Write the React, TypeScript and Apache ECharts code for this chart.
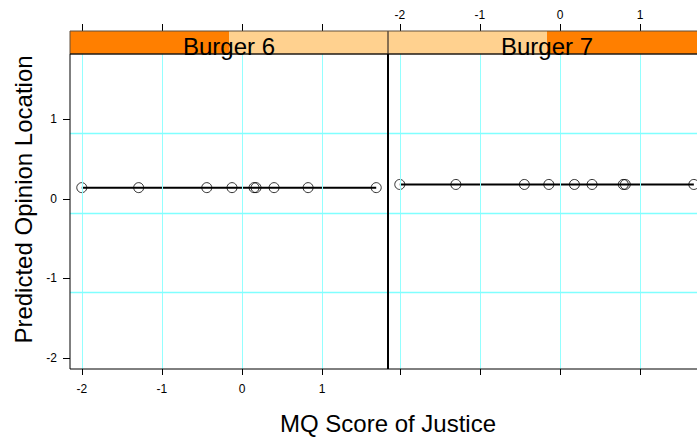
import React, { useEffect, useRef } from "react";
import * as echarts from "echarts";

// ---- data ----
const panelNames = ["Burger 6", "Burger 7"];
const panelLevel = [1, 2]; // level indicator in strip (of 2 levels)
const mqScores6 = [-2.0, -1.29, -0.44, -0.125, 0.15, 0.175, 0.4, 0.825, 1.675];
const predicted6 = [0.14, 0.14, 0.14, 0.14, 0.14, 0.14, 0.14, 0.14, 0.14];
const mqScores7 = [-2.0, -1.3, -0.445, -0.14, 0.18, 0.4, 0.79, 0.815, 1.67];
const predicted7 = [0.18, 0.18, 0.18, 0.18, 0.18, 0.18, 0.18, 0.18, 0.18];
const xTicks = [-2, -1, 0, 1];
const yTicks = [-2, -1, 0, 1];
const vGrid = [-2, -1, 0, 1];
const hGrid = [0.82, -0.18, -1.18];

const X_MIN = -2.147;
const X_MAX = 1.822;
const Y_MIN = -2.14;
const Y_MAX = 1.82;

const FONT = "'Liberation Sans', Arial, Helvetica, sans-serif";

const CHART_W = 697;
const CHART_H = 437;
const PANEL_LEFT = [70, 388];
const PANEL_W = 318;
const PANEL_TOP = 54;
const PANEL_H = 315;
const STRIP_H = 23;
const DARK = "#FF7F00";
const LIGHT = "#FFD18F";
const GRIDC = "#94FFFF";

// the second panel is cut by the page edge: only its visible part is a grid
const VIS_W = [PANEL_W, Math.min(PANEL_W, CHART_W - PANEL_LEFT[1])];
const X_MAX_VIS = VIS_W.map((w) => X_MIN + ((X_MAX - X_MIN) * w) / PANEL_W);

function zip(a: number[], b: number[]) {
  return a.map((v, i) => [v, b[i]]);
}

function xAxisCfg(gridIndex: number, position: "top" | "bottom", showLabels: boolean) {
  const top = position === "top";
  return {
    type: "value",
    gridIndex,
    position,
    min: X_MIN,
    max: X_MAX_VIS[gridIndex],
    offset: top ? STRIP_H : 0,
    axisLine: { show: false, onZero: false },
    splitLine: { show: false },
    axisTick: {
      show: true,
      inside: false,
      length: top ? 7 : 6,
      lineStyle: { color: "#000", width: 1 },
      customValues: xTicks,
    },
    axisLabel: {
      show: showLabels,
      customValues: xTicks,
      margin: top ? 10 : 14,
      fontSize: 12,
      color: "#000",
      fontFamily: FONT,
    },
  };
}

export default function App() {
  const ref = useRef<HTMLDivElement>(null);
  useEffect(() => {
    if (!ref.current) return;
    const chart = echarts.init(ref.current, undefined, { renderer: "svg" });

    const grids = PANEL_LEFT.map((l, i) => ({
      left: l,
      top: PANEL_TOP,
      width: VIS_W[i],
      height: PANEL_H,
      show: false,
      containLabel: false,
    }));

    const yAxes = [0, 1].map((g) => ({
      type: "value",
      gridIndex: g,
      position: "left",
      min: Y_MIN,
      max: Y_MAX,
      show: g === 0,
      axisLine: { show: false, onZero: false },
      splitLine: { show: false },
      axisTick: {
        show: true,
        inside: false,
        length: 7,
        lineStyle: { color: "#000", width: 1 },
        customValues: yTicks,
      },
      axisLabel: {
        show: true,
        customValues: yTicks,
        margin: 13,
        fontSize: 12,
        color: "#000",
        fontFamily: FONT,
      },
    }));

    const xAxes = [
      xAxisCfg(0, "bottom", true),
      xAxisCfg(0, "top", false),
      xAxisCfg(1, "bottom", false),
      xAxisCfg(1, "top", true),
    ];

    const panelData = [zip(mqScores6, predicted6), zip(mqScores7, predicted7)];
    const series: any[] = [];
    panelData.forEach((data, p) => {
      const xi = p === 0 ? 0 : 2;
      series.push({
        type: "line",
        xAxisIndex: xi,
        yAxisIndex: p,
        data: [],
        z: 1,
        silent: true,
        markLine: {
          silent: true,
          symbol: ["none", "none"],
          label: { show: false },
          lineStyle: { color: GRIDC, type: "solid", width: 1 },
          emphasis: { disabled: true },
          data: [
            ...vGrid.map((v) => ({ xAxis: v })),
            ...hGrid.map((v) => ({
              yAxis: v,
              lineStyle: { color: "#80FFFF", type: "solid", width: 1.4 },
            })),
          ],
        },
      });
      series.push({
        type: "line",
        xAxisIndex: xi,
        yAxisIndex: p,
        data,
        showSymbol: false,
        z: 3,
        lineStyle: { color: "#000", width: 2 },
      });
      series.push({
        type: "scatter",
        xAxisIndex: xi,
        yAxisIndex: p,
        data,
        z: 4,
        symbol: "circle",
        symbolSize: 10,
        itemStyle: { color: "rgba(0,0,0,0)", borderColor: "#000", borderWidth: 1 },
      });
    });

    const graphics: any[] = [];
    PANEL_LEFT.forEach((l, p) => {
      const half = PANEL_W / 2;
      const level = panelLevel[p];
      const nLevels = panelNames.length;
      const darkX = l + (level - 1) * (PANEL_W / nLevels);
      graphics.push({
        type: "rect",
        z: 50,
        shape: { x: l, y: PANEL_TOP - STRIP_H, width: PANEL_W, height: STRIP_H },
        style: { fill: LIGHT },
      });
      graphics.push({
        type: "rect",
        z: 51,
        shape: { x: darkX, y: PANEL_TOP - STRIP_H, width: PANEL_W / nLevels, height: STRIP_H },
        style: { fill: DARK },
      });
      graphics.push({
        type: "rect",
        z: 52,
        shape: { x: l, y: PANEL_TOP - STRIP_H, width: PANEL_W, height: STRIP_H },
        style: { fill: "none", stroke: "#5e4e3c", lineWidth: 1 },
      });
      graphics.push({
        type: "rect",
        z: 60,
        shape: { x: l, y: PANEL_TOP, width: PANEL_W, height: PANEL_H },
        style: { fill: "none", stroke: "#000", lineWidth: 1 },
      });
      graphics.push({
        type: "text",
        z: 70,
        x: l + half,
        y: PANEL_TOP - STRIP_H / 2 + 4,
        style: {
          text: panelNames[p],
          fontSize: 24,
          fontFamily: FONT,
          fill: "#000",
          align: "center",
          verticalAlign: "middle",
        },
      });
    });
    graphics.push({
      type: "line",
      z: 61,
      shape: { x1: PANEL_LEFT[1], y1: PANEL_TOP, x2: PANEL_LEFT[1], y2: PANEL_TOP + PANEL_H },
      style: { stroke: "#000", lineWidth: 2 },
    });
    graphics.push({
      type: "text",
      z: 70,
      x: PANEL_LEFT[0] + PANEL_W,
      y: 423,
      style: {
        text: "MQ Score of Justice",
        fontSize: 24,
        fontFamily: FONT,
        fill: "#000",
        align: "center",
        verticalAlign: "middle",
      },
    });
    graphics.push({
      type: "text",
      z: 70,
      x: 23,
      y: PANEL_TOP + PANEL_H / 2 - 12,
      rotation: Math.PI / 2,
      style: {
        text: "Predicted Opinion Location",
        fontSize: 24,
        fontFamily: FONT,
        fill: "#000",
        align: "center",
        verticalAlign: "middle",
      },
    });

    chart.setOption({
      animation: false,
      backgroundColor: "#fff",
      grid: grids,
      xAxis: xAxes,
      yAxis: yAxes,
      series,
      graphic: graphics,
    });
    return () => chart.dispose();
  }, []);
  return (
    <div
      ref={ref}
      style={{ position: "fixed", left: 0, top: 0, width: CHART_W, height: CHART_H }}
    />
  );
}
